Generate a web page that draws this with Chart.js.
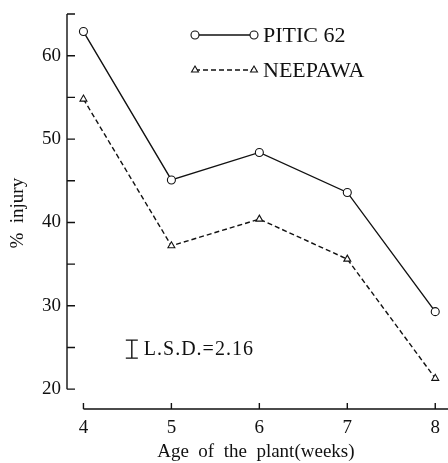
<!DOCTYPE html>
<html>
<head>
<meta charset="utf-8">
<script src="https://cdn.jsdelivr.net/npm/chart.js@4.4.0/dist/chart.umd.min.js"></script>
<style>
  body { margin: 0; background: #fff; }
  #wrap { width: 448px; height: 463px; }
</style>
</head>
<body>
<div id="wrap"><canvas id="injuryChart"></canvas></div>
<script>
// values
var weeks = [4, 5, 6, 7, 8];
var pitic62 = [62.9, 45.1, 48.4, 43.6, 29.3];
var neepawa = [54.8, 37.2, 40.4, 35.6, 21.3];
var yTickLabels = [20, 30, 40, 50, 60];
var yMinorTicks = [20, 25, 30, 35, 40, 45, 50, 55, 60, 65];
var lsd = 2.16;
var lsdPos = [4.55, 24.8]; // where the L.S.D. bar sits (week, % injury)

var ink = '#111';
var serif = "'Liberation Serif', 'DejaVu Serif', serif";

function toPoints(vals) {
  return weeks.map(function (w, i) { return { x: w, y: vals[i] }; });
}

// axes, tick marks, legend and L.S.D. bar drawn by hand
var decor = {
  id: 'decor',
  afterDraw: function (chart) {
    var ctx = chart.ctx;
    var xs = chart.scales.x, ys = chart.scales.y;
    var axisX = chart.chartArea.left;
    var axisY = chart.chartArea.bottom;
    ctx.save();
    ctx.strokeStyle = ink;
    ctx.lineWidth = 1.4;

    // y axis, 20 up to 65, ticks pointing inward
    ctx.beginPath();
    ctx.moveTo(axisX, ys.getPixelForValue(20));
    ctx.lineTo(axisX, ys.getPixelForValue(65));
    yMinorTicks.forEach(function (v) {
      var py = ys.getPixelForValue(v);
      ctx.moveTo(axisX, py);
      ctx.lineTo(axisX + 8, py);
    });
    ctx.stroke();

    // x axis, starts at week 4, ticks pointing up
    ctx.beginPath();
    ctx.moveTo(xs.getPixelForValue(weeks[0]), axisY);
    ctx.lineTo(chart.width, axisY);
    weeks.forEach(function (w) {
      var px = xs.getPixelForValue(w);
      ctx.moveTo(px, axisY);
      ctx.lineTo(px, axisY - 6);
    });
    ctx.stroke();

    // L.S.D. bar
    var bx = xs.getPixelForValue(lsdPos[0]);
    var top = ys.getPixelForValue(lsdPos[1] + lsd / 2);
    var bot = ys.getPixelForValue(lsdPos[1] - lsd / 2);
    ctx.beginPath();
    ctx.moveTo(bx, top); ctx.lineTo(bx, bot);
    ctx.moveTo(bx - 6, top); ctx.lineTo(bx + 6, top);
    ctx.moveTo(bx - 6, bot); ctx.lineTo(bx + 6, bot);
    ctx.stroke();
    ctx.fillStyle = ink;
    ctx.font = '20px ' + serif;
    ctx.textBaseline = 'middle';
    ctx.letterSpacing = '1px';
    ctx.fillText('L.S.D.=' + lsd.toFixed(2), bx + 12, (top + bot) / 2 + 1);
    ctx.letterSpacing = '0px';

    // legend
    chart.data.datasets.forEach(function (ds, i) {
      var ly = 35 + i * 35;
      ctx.beginPath();
      ctx.strokeStyle = ink;
      ctx.setLineDash(ds.borderDash || []);
      ctx.lineWidth = ds.borderWidth;
      ctx.moveTo(195, ly);
      ctx.lineTo(254, ly);
      ctx.stroke();
      ctx.setLineDash([]);
      [195, 254].forEach(function (mx) {
        ctx.fillStyle = '#fff';
        ctx.strokeStyle = ink;
        ctx.lineWidth = ds.pointBorderWidth;
        Chart.helpers.drawPoint(ctx, {
          pointStyle: ds.pointStyle,
          radius: ds.pointRadius,
          borderWidth: ds.pointBorderWidth,
          rotation: 0
        }, mx, ly);
      });
      ctx.fillStyle = ink;
      ctx.font = '22px ' + serif;
      ctx.textBaseline = 'middle';
      ctx.fillText(ds.label, 263, ly + 1);
    });
    ctx.restore();
  }
};

var chart = new Chart(document.getElementById('injuryChart'), {
  type: 'line',
  data: {
    datasets: [{
      label: 'PITIC 62',
      data: toPoints(pitic62),
      borderColor: ink,
      borderWidth: 1.4,
      pointStyle: 'circle',
      pointRadius: 4,
      pointBorderWidth: 1.1,
      pointBackgroundColor: '#fff',
      pointBorderColor: ink,
      clip: false
    }, {
      label: 'NEEPAWA',
      data: toPoints(neepawa),
      borderColor: ink,
      borderWidth: 1.4,
      borderDash: [5, 3],
      pointStyle: 'triangle',
      pointRadius: 4,
      pointBorderWidth: 1.1,
      pointBackgroundColor: '#fff',
      pointBorderColor: ink,
      clip: false
    }]
  },
  options: {
    responsive: true,
    maintainAspectRatio: false,
    animation: false,
    layout: { autoPadding: false, padding: { top: 9, right: 0, left: 0, bottom: 0 } },
    plugins: { legend: { display: false }, tooltip: { enabled: false } },
    scales: {
      x: {
        type: 'linear',
        min: 3.813,
        max: 8,
        border: { display: false },
        grid: { display: false, drawTicks: false },
        afterBuildTicks: function (scale) {
          scale.ticks = weeks.map(function (w) { return { value: w }; });
        },
        afterFit: function (scale) { scale.height = 54; },
        ticks: { color: ink, font: { family: serif, size: 19 }, padding: 8, maxRotation: 0 },
        title: {
          display: true,
          text: '  Age  of  the  plant(weeks)',
          color: ink,
          font: { family: serif, size: 19 },
          padding: { top: 0, bottom: 0 }
        }
      },
      y: {
        min: 17.62,
        max: 64.6,
        border: { display: false },
        grid: { display: false, drawTicks: false },
        afterBuildTicks: function (scale) {
          scale.ticks = yTickLabels.map(function (v) { return { value: v }; });
        },
        afterFit: function (scale) { scale.width = 67; },
        ticks: { color: ink, font: { family: serif, size: 19 }, padding: 6 },
        title: {
          display: true,
          text: '%  injury',
          color: ink,
          font: { family: serif, size: 19 },
          padding: { top: 7, bottom: 0 }
        }
      }
    }
  },
  plugins: [decor]
});
</script>
</body>
</html>
